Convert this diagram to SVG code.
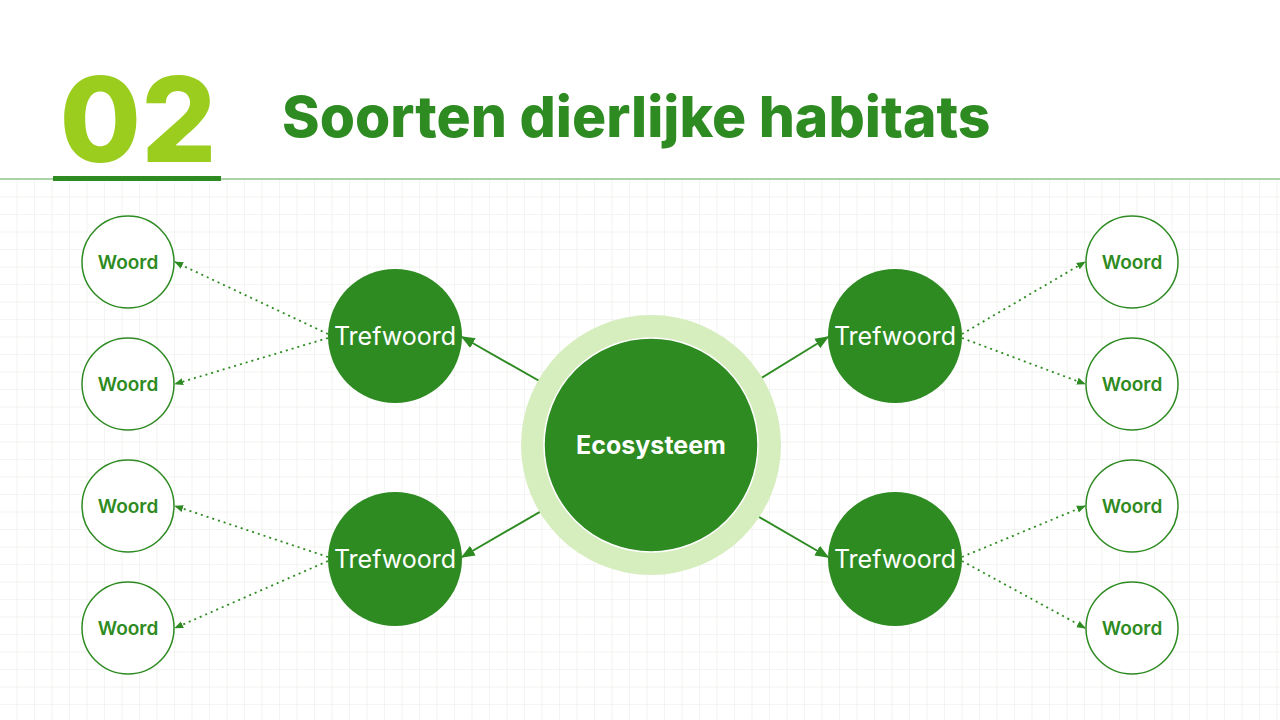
<svg xmlns="http://www.w3.org/2000/svg" width="1280" height="720" viewBox="0 0 1280 720">
<defs>
<pattern id="grid" x="0" y="180" width="17.5" height="17.5" patternUnits="userSpaceOnUse">
<path d="M17.5 0V17.5H0" fill="none" stroke="#e6ece4" stroke-width="1"/>
</pattern>
<marker id="ah" viewBox="0 0 10 10" refX="9" refY="5" markerWidth="7" markerHeight="7" orient="auto"><path d="M0 1L10 5L0 9z" fill="#2e8b22"/></marker>
<marker id="ahs" viewBox="0 0 10 10" refX="9" refY="5" markerWidth="5" markerHeight="5" orient="auto"><path d="M0 1L10 5L0 9z" fill="#2e8b22"/></marker>
</defs>
<style>
.t{font-family:Inter,"Liberation Sans",sans-serif}
.k{fill:#2e8b22}
.kw{fill:#fff;font-size:25px;text-anchor:middle;dominant-baseline:central}
.w{fill:#fff;stroke:#2e8b22;stroke-width:1.5}
.wt{fill:#2e8b22;font-size:19px;font-weight:600;text-anchor:middle;dominant-baseline:central}
.s{stroke:#2e8b22;stroke-width:2;fill:none;marker-end:url(#ah)}
.d{stroke:#2e8b22;stroke-width:1.8;stroke-dasharray:2 4;fill:none;marker-end:url(#ahs)}
</style>
<rect width="1280" height="720" fill="#fff"/>
<rect x="0" y="180" width="1280" height="540" fill="url(#grid)"/>
<line x1="0" y1="179" x2="1280" y2="179" stroke="#8fc48a" stroke-width="1.5"/>
<rect x="53" y="176" width="168" height="5" fill="#2e8b22"/>
<text class="t" x="138" y="162" font-size="118" font-weight="800" fill="#9acd1e" text-anchor="middle">02</text>
<text class="t" x="282" y="137" font-size="57" font-weight="800" fill="#2e8b22">Soorten dierlijke habitats</text>
<g id="connectors">
<path class="s" d="M557 391L462 337"/>
<path class="s" d="M557 502L462 557"/>
<path class="s" d="M745 388L828 337"/>
<path class="s" d="M742 507L828 557"/>
<path class="d" d="M328 334L175 262"/>
<path class="d" d="M328 338L175 384"/>
<path class="d" d="M328 557L175 506"/>
<path class="d" d="M328 561L175 628"/>
<path class="d" d="M962 334L1085 262"/>
<path class="d" d="M962 338L1085 384"/>
<path class="d" d="M962 557L1085 506"/>
<path class="d" d="M962 561L1085 628"/>
</g>
<g id="center">
<circle cx="651" cy="445" r="130" fill="#d6edbd"/>
<circle cx="651" cy="445" r="107" fill="#2e8b22" stroke="#fff" stroke-width="1.5"/>
<text class="t kw" x="651" y="445" font-size="34" font-weight="700">Ecosysteem</text>
</g>
<g id="k1"><circle class="k" cx="395" cy="336" r="67"/><text class="t kw" x="395" y="336">Trefwoord</text></g>
<g id="k2"><circle class="k" cx="395" cy="559" r="67"/><text class="t kw" x="395" y="559">Trefwoord</text></g>
<g id="k3"><circle class="k" cx="895" cy="336" r="67"/><text class="t kw" x="895" y="336">Trefwoord</text></g>
<g id="k4"><circle class="k" cx="895" cy="559" r="67"/><text class="t kw" x="895" y="559">Trefwoord</text></g>
<g id="w1"><circle class="w" cx="128" cy="262" r="46"/><text class="t wt" x="128" y="262">Woord</text></g>
<g id="w2"><circle class="w" cx="128" cy="384" r="46"/><text class="t wt" x="128" y="384">Woord</text></g>
<g id="w3"><circle class="w" cx="128" cy="506" r="46"/><text class="t wt" x="128" y="506">Woord</text></g>
<g id="w4"><circle class="w" cx="128" cy="628" r="46"/><text class="t wt" x="128" y="628">Woord</text></g>
<g id="w5"><circle class="w" cx="1132" cy="262" r="46"/><text class="t wt" x="1132" y="262">Woord</text></g>
<g id="w6"><circle class="w" cx="1132" cy="384" r="46"/><text class="t wt" x="1132" y="384">Woord</text></g>
<g id="w7"><circle class="w" cx="1132" cy="506" r="46"/><text class="t wt" x="1132" y="506">Woord</text></g>
<g id="w8"><circle class="w" cx="1132" cy="628" r="46"/><text class="t wt" x="1132" y="628">Woord</text></g>
</svg>
